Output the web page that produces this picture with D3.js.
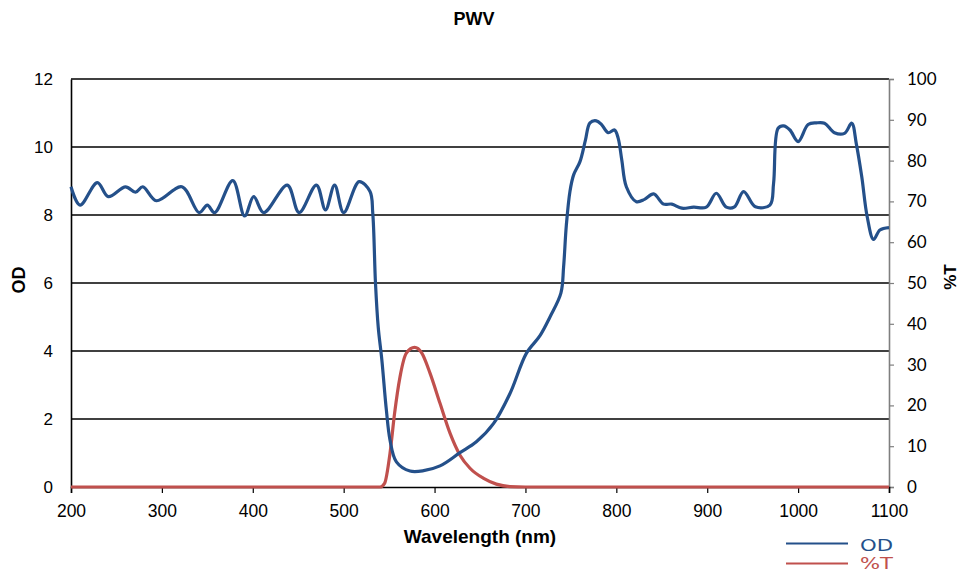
<!DOCTYPE html>
<html>
<head>
<meta charset="utf-8">
<script src="https://cdn.jsdelivr.net/npm/d3@7"></script>
<style>
  html, body { margin: 0; padding: 0; background: #fff; }
  svg { display: block; }
</style>
</head>
<body>
<svg id="chart" width="962" height="573"></svg>
<script>
// Optical density spectrum (wavelength nm, OD)
const odWavelength = [200, 210, 229, 241, 260, 271, 279, 294, 322, 341, 350, 358, 378, 391, 401, 412, 438, 451, 470, 480, 490, 500, 517, 529, 532, 535, 538, 542, 547, 551, 558, 573, 588, 606, 628, 646, 665, 683, 701, 716, 727, 739, 742, 745, 749, 753, 760, 766, 771, 778, 784, 791, 798, 802, 806, 811, 822, 831, 841, 852, 861, 872, 885, 899, 910, 921, 930, 940, 953, 969, 973, 978, 984, 991, 1000, 1011, 1020, 1029, 1040, 1051, 1059, 1064, 1070, 1076, 1083, 1090, 1100];
const odValues = [8.83, 8.29, 8.95, 8.54, 8.83, 8.67, 8.83, 8.42, 8.83, 8.07, 8.29, 8.07, 9.01, 7.97, 8.54, 8.07, 8.88, 8.07, 8.88, 8.15, 8.88, 8.07, 8.98, 8.69, 8.06, 6.0, 4.71, 3.74, 2.26, 1.38, 0.74, 0.47, 0.48, 0.62, 1.01, 1.33, 1.87, 2.75, 3.93, 4.45, 5.0, 5.7, 6.48, 7.7, 8.7, 9.18, 9.57, 10.2, 10.71, 10.77, 10.65, 10.42, 10.5, 10.26, 9.62, 8.83, 8.39, 8.46, 8.62, 8.32, 8.32, 8.2, 8.23, 8.23, 8.64, 8.23, 8.24, 8.69, 8.24, 8.29, 8.93, 10.55, 10.62, 10.5, 10.16, 10.66, 10.71, 10.7, 10.42, 10.4, 10.7, 10.1, 9.13, 7.95, 7.28, 7.56, 7.63];

// Transmission spectrum (wavelength nm, %T)
const tWavelength = [200, 540, 545, 551, 556, 562, 569, 578, 586, 595, 606, 617, 628, 639, 654, 668, 683, 700, 1100];
const tValues = [0, 0, 0.9, 8.3, 18, 27, 32.8, 34.2, 32.8, 27.9, 20.5, 13.2, 7.8, 4.6, 2.1, 0.7, 0.1, 0, 0];

const xTicks = [200, 300, 400, 500, 600, 700, 800, 900, 1000, 1100];
const odTicks = [0, 2, 4, 6, 8, 10, 12];
const tTicks = [0, 10, 20, 30, 40, 50, 60, 70, 80, 90, 100];

const odColor = "#24508a";
const tColor = "#c0504d";

const svg = d3.select("#chart");
const plotLeft = 71, plotRight = 889, plotTop = 79, plotBottom = 487;

const x = d3.scaleLinear().domain([200, 1100]).range([plotLeft, plotRight]);
const yOD = d3.scaleLinear().domain([0, 12]).range([plotBottom, plotTop]);
const yT = d3.scaleLinear().domain([0, 100]).range([plotBottom, plotTop]);

// Horizontal gridlines
svg.append("g")
  .selectAll("line")
  .data(odTicks.filter(d => d > 0))
  .join("line")
  .attr("x1", plotLeft).attr("x2", plotRight)
  .attr("y1", d => yOD(d)).attr("y2", d => yOD(d))
  .attr("stroke", "#000").attr("stroke-width", 1.6);

// Left axis
const gLeft = svg.append("g")
  .attr("transform", `translate(${plotLeft},0)`)
  .call(d3.axisLeft(yOD).tickValues(odTicks).tickSize(0).tickPadding(18));
gLeft.select(".domain").attr("stroke", "#000").attr("stroke-width", 1.6);
gLeft.selectAll("text")
  .attr("font-family", "Liberation Sans, Arial, sans-serif")
  .attr("font-size", 17).attr("fill", "#000");

// Right axis
const gRight = svg.append("g")
  .attr("transform", `translate(${plotRight},0)`)
  .call(d3.axisRight(yT).tickValues(tTicks).tickSize(5).tickPadding(13));
gRight.select(".domain").attr("stroke", "#7f7f7f").attr("stroke-width", 1.6);
gRight.selectAll(".tick line").attr("stroke", "#7f7f7f").attr("stroke-width", 1.2);
gRight.selectAll("text")
  .attr("font-family", "Lato, sans-serif")
  .attr("font-size", 17).attr("fill", "#000");

// Bottom axis
const gBottom = svg.append("g")
  .attr("transform", `translate(0,${plotBottom})`)
  .call(d3.axisBottom(x).tickValues(xTicks).tickSize(6).tickPadding(12).tickFormat(d3.format("d")));
gBottom.select(".domain").attr("stroke", "#000").attr("stroke-width", 1.6);
gBottom.selectAll(".tick line").attr("stroke", "#000").attr("stroke-width", 1.2);
gBottom.selectAll("text")
  .attr("font-family", "Liberation Sans, Arial, sans-serif")
  .attr("font-size", 17.5).attr("fill", "#000");

// Curves
const tLine = d3.line()
  .x((d, i) => x(tWavelength[i]))
  .y(d => yT(d))
  .curve(d3.curveMonotoneX);
svg.append("path")
  .attr("d", tLine(tValues))
  .attr("fill", "none").attr("stroke", tColor).attr("stroke-width", 3.2)
  .attr("stroke-linejoin", "round");

const odLine = d3.line()
  .x((d, i) => x(odWavelength[i]))
  .y(d => yOD(d))
  .curve(d3.curveCatmullRom.alpha(0.5));
svg.append("path")
  .attr("d", odLine(odValues))
  .attr("fill", "none").attr("stroke", odColor).attr("stroke-width", 3.2)
  .attr("stroke-linejoin", "round");

// Titles
svg.append("text")
  .attr("x", 474).attr("y", 25)
  .attr("text-anchor", "middle")
  .attr("font-family", "Liberation Sans, Arial, sans-serif")
  .attr("font-weight", "bold").attr("font-size", 18)
  .text("PWV");

svg.append("text")
  .attr("x", 480).attr("y", 543)
  .attr("text-anchor", "middle")
  .attr("font-family", "Liberation Sans, Arial, sans-serif")
  .attr("font-weight", "bold").attr("font-size", 19)
  .text("Wavelength (nm)");

svg.append("text")
  .attr("transform", "translate(25,280) rotate(-90)")
  .attr("text-anchor", "middle")
  .attr("font-family", "Liberation Sans, Arial, sans-serif")
  .attr("font-weight", "bold").attr("font-size", 18)
  .text("OD");

svg.append("text")
  .attr("transform", "translate(956,277) rotate(-90)")
  .attr("text-anchor", "middle")
  .attr("font-family", "Liberation Sans, Arial, sans-serif")
  .attr("font-weight", "bold").attr("font-size", 17)
  .text("%T");

// Legend
const legend = [
  { name: "OD", color: odColor, y: 543.5, base: 550.5 },
  { name: "%T", color: tColor, y: 563.5, base: 568.5 }
];
const lg = svg.append("g");
lg.selectAll("line")
  .data(legend)
  .join("line")
  .attr("x1", 786).attr("x2", 848)
  .attr("y1", d => d.y).attr("y2", d => d.y)
  .attr("stroke", d => d.color).attr("stroke-width", 2);
lg.selectAll("text")
  .data(legend)
  .join("text")
  .attr("x", 860).attr("y", d => d.base)
  .attr("font-family", "DejaVu Sans, sans-serif")
  .attr("font-size", 15)
  .attr("textLength", 33)
  .attr("lengthAdjust", "spacingAndGlyphs")
  .attr("fill", d => d.color)
  .text(d => d.name);
</script>
</body>
</html>
